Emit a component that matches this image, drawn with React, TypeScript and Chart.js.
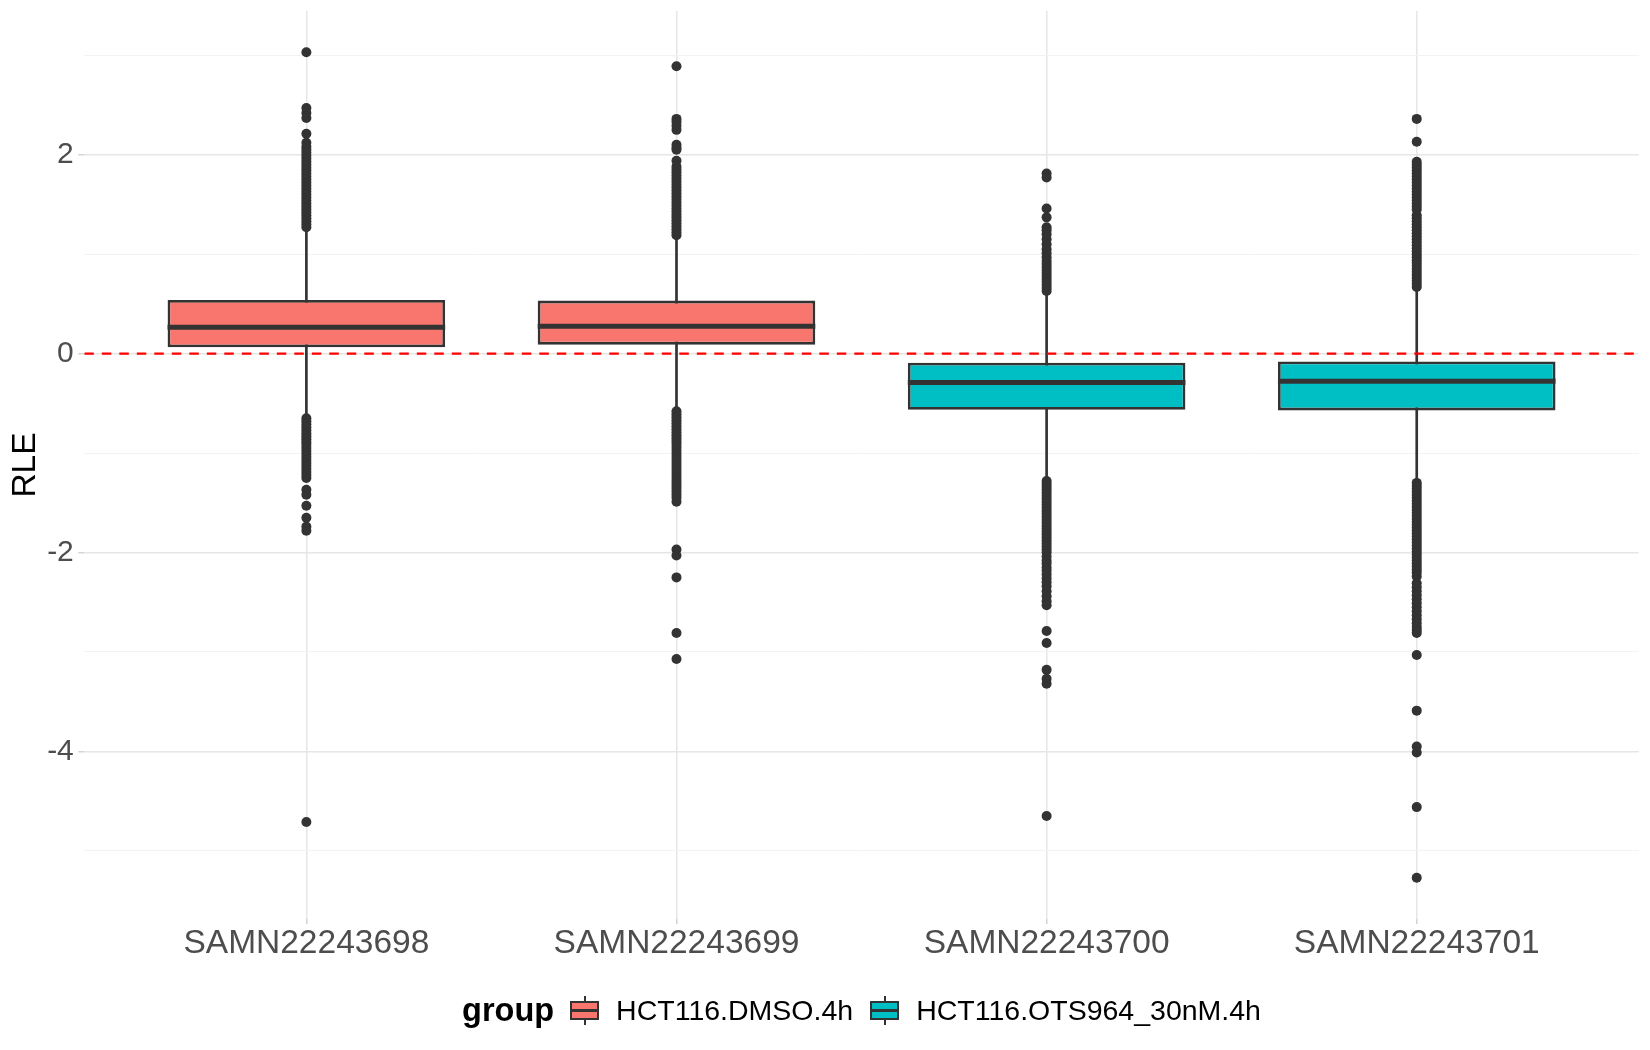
import React, { useEffect, useRef } from 'react';
import { Chart, registerables } from 'chart.js';

Chart.register(...registerables);

const FONT = '"Liberation Sans", Arial, Helvetica, sans-serif';

const SAMPLES = ['SAMN22243698', 'SAMN22243699', 'SAMN22243700', 'SAMN22243701'];
const GROUPS = ['HCT116.DMSO.4h', 'HCT116.OTS964_30nM.4h'];
const SAMPLE_GROUP = [0, 0, 1, 1];
const GROUP_COLORS = ['#F8766D', '#00BFC4'];

// box statistics
const Q1 = [0.064, 0.09, -0.564, -0.571];
const MEDIAN = [0.266, 0.276, -0.29, -0.279];
const Q3 = [0.54, 0.533, -0.092, -0.08];
const WHISKER_LOW = [-0.63, -0.56, -1.26, -1.29];
const WHISKER_HIGH = [1.24, 1.16, 0.61, 0.64];

// outliers per sample (dense columns read as stacked points)
const OUTLIERS_698 = [
  3.03, 2.47, 2.42, 2.37, 2.21, 2.12, 2.08, 2.05, 2.02, 1.99, 1.96, 1.93, 1.9, 1.87, 1.84, 1.81, 1.78,
  1.75, 1.72, 1.69, 1.66, 1.63, 1.6, 1.57, 1.54, 1.51, 1.48, 1.45, 1.42, 1.39, 1.36, 1.33, 1.3, 1.27,
  -0.65, -0.68, -0.71, -0.74, -0.77, -0.8, -0.83, -0.86, -0.89, -0.92, -0.95, -0.98, -1.01, -1.04,
  -1.07, -1.1, -1.13, -1.16, -1.19, -1.22, -1.25, -1.37, -1.42, -1.53, -1.65, -1.74, -1.78, -4.71
];
const OUTLIERS_699 = [
  2.89, 2.36, 2.33, 2.29, 2.25, 2.1, 2.07, 2.05, 1.94, 1.88, 1.85, 1.82, 1.79, 1.76, 1.73, 1.7, 1.67,
  1.64, 1.61, 1.58, 1.55, 1.52, 1.49, 1.46, 1.43, 1.4, 1.37, 1.34, 1.31, 1.28, 1.25, 1.22, 1.19,
  -0.58, -0.61, -0.64, -0.67, -0.7, -0.73, -0.76, -0.79, -0.82, -0.85, -0.88, -0.91, -0.94, -0.97,
  -1.0, -1.03, -1.06, -1.09, -1.12, -1.15, -1.18, -1.21, -1.24, -1.27, -1.3, -1.33, -1.36, -1.39,
  -1.42, -1.45, -1.49, -1.97, -2.03, -2.25, -2.81, -3.07
];
const OUTLIERS_700 = [
  1.81, 1.77, 1.46, 1.37, 1.27, 1.24, 1.2, 1.15, 1.1, 1.05, 1.01, 0.97, 0.93, 0.9, 0.87, 0.84, 0.81,
  0.78, 0.75, 0.72, 0.69, 0.66, 0.63,
  -1.28, -1.31, -1.34, -1.37, -1.4, -1.43, -1.46, -1.49, -1.52, -1.55, -1.58, -1.61, -1.64, -1.67,
  -1.7, -1.73, -1.76, -1.79, -1.82, -1.85, -1.88, -1.91, -1.94, -1.97, -2.0, -2.04, -2.08, -2.11,
  -2.15, -2.18, -2.22, -2.26, -2.3, -2.34, -2.39, -2.44, -2.49, -2.53, -2.79, -2.91, -3.18, -3.27,
  -3.32, -4.65
];
const OUTLIERS_701 = [
  2.36, 2.13, 1.93, 1.9, 1.87, 1.84, 1.81, 1.78, 1.75, 1.72, 1.69, 1.66, 1.63, 1.6, 1.57, 1.54, 1.51,
  1.48, 1.45, 1.39, 1.36, 1.33, 1.3, 1.27, 1.24, 1.21, 1.18, 1.15, 1.12, 1.09, 1.06, 1.03, 1.0, 0.97,
  0.94, 0.91, 0.88, 0.85, 0.82, 0.79, 0.76, 0.73, 0.7, 0.67,
  -1.3, -1.33, -1.36, -1.39, -1.42, -1.45, -1.48, -1.51, -1.54, -1.57, -1.6, -1.63, -1.66, -1.69,
  -1.72, -1.75, -1.78, -1.81, -1.84, -1.87, -1.9, -1.93, -1.96, -1.99, -2.02, -2.05, -2.08, -2.11,
  -2.14, -2.17, -2.2, -2.24, -2.31, -2.35, -2.39, -2.43, -2.47, -2.51, -2.55, -2.59, -2.63, -2.67,
  -2.71, -2.75, -2.78, -2.81, -3.03, -3.59, -3.95, -4.01, -4.56, -5.27
];
const OUTLIERS = [OUTLIERS_698, OUTLIERS_699, OUTLIERS_700, OUTLIERS_701];

const REF_LINE = 0;
const Y_TICKS = [-5, -4, -3, -2, -1, 0, 1, 2, 3];
const Y_RANGE = [-5.685, 3.445];
const X_RANGE = [0.4, 4.6];
const BOX_WIDTH = 0.75;

const isMajor = (v: number) => Math.round(v) % 2 === 0;

function LegendKey({ color }: { color: string }) {
  return (
    <div style={{ position: 'relative', width: 29, height: 29, flex: '0 0 auto' }}>
      <div style={{ position: 'absolute', left: 13.5, top: 0, width: 2, height: 29, background: '#333333' }} />
      <div
        style={{
          position: 'absolute', left: 0, top: 5, width: 29, height: 19, boxSizing: 'border-box',
          border: '2.5px solid #333333', background: color
        }}
      />
      <div style={{ position: 'absolute', left: 0, top: 13.5, width: 29, height: 2.5, background: '#333333' }} />
    </div>
  );
}

export default function App() {
  const canvasRef = useRef<HTMLCanvasElement | null>(null);
  const chartRef = useRef<Chart | null>(null);

  useEffect(() => {
    if (!canvasRef.current) return;
    const ctx = canvasRef.current.getContext('2d');
    if (!ctx) return;

    const positions = SAMPLES.map((_, i) => i + 1);
    const boxColors = SAMPLE_GROUP.map((g) => GROUP_COLORS[g]);
    const halfBox = (c: any) => {
      const xs = c.chart.scales.x;
      return xs.getPixelForValue(1 + BOX_WIDTH / 2) - xs.getPixelForValue(1);
    };

    chartRef.current = new Chart(ctx, {
      type: 'bar',
      data: {
        datasets: [
          {
            type: 'line',
            label: 'zero',
            data: [{ x: X_RANGE[0], y: REF_LINE }, { x: X_RANGE[1], y: REF_LINE }],
            borderColor: '#FF0000',
            borderWidth: 2.2,
            borderDash: [9.5, 8],
            pointRadius: 0,
            order: 0
          },
          {
            type: 'scatter',
            label: 'median',
            data: positions.map((x, i) => ({ x, y: MEDIAN[i] })),
            pointStyle: 'line',
            pointRadius: halfBox,
            borderColor: '#333333',
            borderWidth: 5,
            order: 1
          },
          {
            type: 'bar',
            label: 'box',
            data: positions.map((x, i) => ({ x, y: [Q1[i], Q3[i]] })),
            backgroundColor: boxColors,
            borderColor: '#333333',
            borderWidth: 2.8,
            borderSkipped: false,
            grouped: false,
            barPercentage: BOX_WIDTH,
            categoryPercentage: 1,
            order: 2
          },
          {
            type: 'bar',
            label: 'whisker',
            data: positions.map((x, i) => ({ x, y: [WHISKER_LOW[i], WHISKER_HIGH[i]] })),
            backgroundColor: '#333333',
            barThickness: 2,
            grouped: false,
            order: 3
          },
          {
            type: 'scatter',
            label: 'outliers',
            data: OUTLIERS.flatMap((vals, i) => vals.map((y) => ({ x: positions[i], y }))),
            pointRadius: 5,
            backgroundColor: '#333333',
            borderWidth: 0,
            order: 4
          }
        ] as any
      },
      options: {
        animation: false,
        responsive: false,
        events: [],
        layout: { padding: { top: 11, right: 11.2, bottom: 0, left: 0 } },
        plugins: {
          legend: { display: false },
          tooltip: { enabled: false }
        },
        scales: {
          x: {
            type: 'linear',
            min: X_RANGE[0],
            max: X_RANGE[1],
            offset: false,
            afterBuildTicks: (axis: any) => {
              axis.ticks = positions.map((value) => ({ value }));
            },
            afterFit: (axis: any) => {
              axis.height = 131;
              axis.paddingLeft = 0;
              axis.paddingRight = 0;
            },
            ticks: {
              autoSkip: false,
              maxRotation: 0,
              padding: 3,
              color: '#4D4D4D',
              font: { family: FONT, size: 33.5, lineHeight: 1 },
              callback: (v: any) => SAMPLES[Number(v) - 1] ?? ''
            },
            grid: {
              offset: false,
              color: '#E6E6E6',
              lineWidth: 1.5,
              drawTicks: true,
              tickLength: 5,
              tickColor: '#D4D4D4'
            },
            border: { display: false }
          },
          y: {
            type: 'linear',
            min: Y_RANGE[0],
            max: Y_RANGE[1],
            afterBuildTicks: (axis: any) => {
              axis.ticks = Y_TICKS.map((value) => ({ value }));
            },
            afterFit: (axis: any) => {
              axis.width = 84.3;
              axis.paddingTop = 0;
              axis.paddingBottom = 0;
            },
            ticks: {
              autoSkip: false,
              padding: 4.5,
              color: '#4D4D4D',
              font: { family: FONT, size: 30, lineHeight: 1 },
              callback: (v: any) => (isMajor(Number(v)) ? String(v) : '')
            },
            grid: {
              color: (c: any) => (isMajor(c.tick.value) ? '#E6E6E6' : '#F2F2F2'),
              lineWidth: (c: any) => (isMajor(c.tick.value) ? 1.5 : 0.9),
              drawTicks: true,
              tickLength: 6,
              tickColor: (c: any) => (isMajor(c.tick.value) ? '#D4D4D4' : 'rgba(0,0,0,0)')
            },
            border: { display: false },
            title: {
              display: true,
              text: 'RLE',
              color: '#000000',
              font: { family: FONT, size: 33.5, lineHeight: 1.2 },
              padding: { top: 6, bottom: 0 }
            }
          }
        }
      } as any
    });

    return () => {
      if (chartRef.current) {
        chartRef.current.destroy();
        chartRef.current = null;
      }
    };
  }, []);

  return (
    <div style={{ position: 'absolute', left: 0, top: 0, width: 1650, height: 1050, background: '#FFFFFF' }}>
      <canvas ref={canvasRef} width={1650} height={1050} style={{ display: 'block' }} />
      <div
        style={{
          position: 'absolute', left: 73, right: 0, top: 990, height: 40,
          display: 'flex', justifyContent: 'center', alignItems: 'center',
          fontFamily: FONT, lineHeight: 1, color: '#000000'
        }}
      >
        <span style={{ fontWeight: 'bold', fontSize: 32.5, marginRight: 16 }}>group</span>
        {GROUPS.map((g, i) => (
          <React.Fragment key={g}>
            <LegendKey color={GROUP_COLORS[i]} />
            <span style={{ fontSize: 28.5, marginLeft: 17, marginRight: i === 0 ? 17 : 0 }}>{g}</span>
          </React.Fragment>
        ))}
      </div>
    </div>
  );
}
